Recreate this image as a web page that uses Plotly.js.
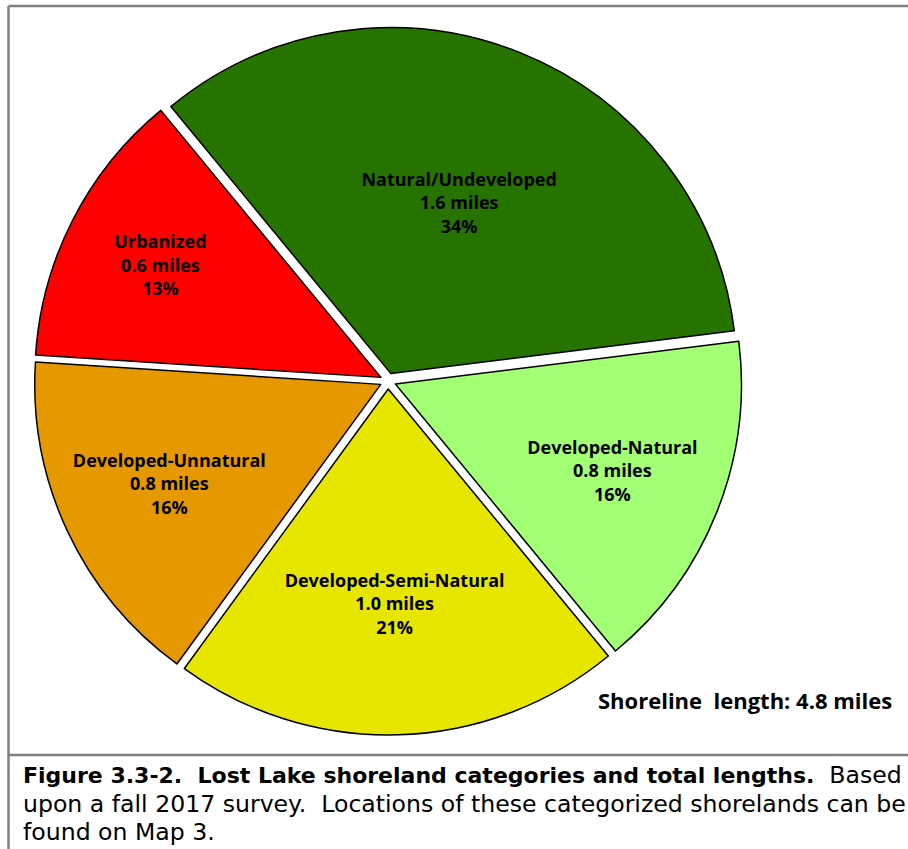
<!DOCTYPE html>
<html>
<head>
<meta charset="utf-8">
<script src="https://cdn.plot.ly/plotly-3.0.1.min.js"></script>
<style>html,body{margin:0;padding:0;background:#fff;}#chart{width:908px;height:849px;}</style>
</head>
<body>
<div id="chart"></div>
<script>
// Data
var categories = ["Natural/Undeveloped", "Developed-Natural", "Developed-Semi-Natural", "Developed-Unnatural", "Urbanized"];
var percentShares = [34, 16, 21, 16, 13];
var milesLengths = [1.6, 0.8, 1.0, 0.8, 0.6];
var sliceColors = ["#267300", "#A3FF73", "#E6E600", "#E69800", "#FF0000"];
var totalLengthLabel = "Shoreline  length: 4.8 miles";
var captionBold = "Figure 3.3-2.  Lost Lake shoreland categories and total lengths.";
var captionLines = ["  Based", "upon a fall 2017 survey.  Locations of these categorized shorelands can be", "found on Map 3."];

var W = 908, H = 849;
function px(x) { return x / W; }
function py(y) { return 1 - y / H; }

var trace = {
  type: "pie",
  labels: categories,
  values: percentShares,
  customdata: milesLengths,
  sort: false,
  direction: "clockwise",
  rotation: -39.5,
  pull: 0.023,
  marker: { colors: sliceColors, line: { color: "#000000", width: 1.5 } },
  texttemplate: "%{label}<br>%{customdata:.1f} miles<br>%{value}%",
  textposition: "inside",
  insidetextorientation: "horizontal",
  insidetextfont: { family: "'Open Sans', Lato, sans-serif", size: 18, color: "#000000", weight: "bold" },
  hoverinfo: "skip",
  showlegend: false,
  domain: { x: [px(34), px(742)], y: [py(735), py(27)] }
};

function reg(s) { return '<span style="font-size:23.6px">' + s + '</span>'; }
var captionText = "<b>" + captionBold + "</b>" + reg(captionLines[0]) + "<br>" +
  reg(captionLines[1]) + "<br>" + reg(captionLines[2]);

var gray = "#808080";
var layout = {
  width: W, height: H,
  margin: { l: 0, r: 0, t: 0, b: 0 },
  paper_bgcolor: "#ffffff",
  showlegend: false,
  shapes: [
    { type: "line", xref: "paper", yref: "paper", x0: px(8.5), x1: 1.01, y0: py(6), y1: py(6), line: { color: gray, width: 2.5 } },
    { type: "line", xref: "paper", yref: "paper", x0: px(8.5), x1: px(8.5), y0: py(6), y1: -0.01, line: { color: gray, width: 2.5 } },
    { type: "line", xref: "paper", yref: "paper", x0: px(8.5), x1: 1.01, y0: py(755), y1: py(755), line: { color: gray, width: 2.5 } }
  ],
  annotations: [
    { xref: "paper", yref: "paper", x: px(894), y: py(700), xanchor: "right", yanchor: "middle",
      text: "<b>" + totalLengthLabel + "</b>", showarrow: false,
      font: { family: "'Open Sans', sans-serif", size: 22, color: "#000000" } },
    { xref: "paper", yref: "paper", x: px(21), y: py(759), xanchor: "left", yanchor: "top", align: "left",
      text: captionText, showarrow: false,
      font: { family: "'DejaVu Sans', sans-serif", size: 22, color: "#000000" } }
  ]
};

Plotly.newPlot("chart", [trace], layout, { displayModeBar: false, staticPlot: true });
</script>
</body>
</html>
